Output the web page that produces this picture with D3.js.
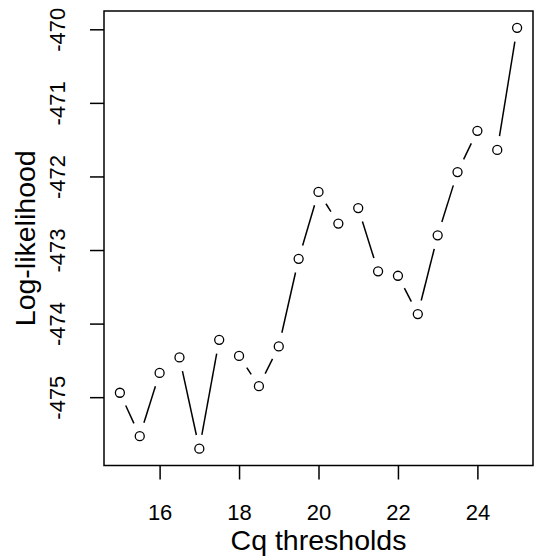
<!DOCTYPE html>
<html>
<head>
<meta charset="utf-8">
<script src="https://cdn.jsdelivr.net/npm/d3@7"></script>
<style>
  body { margin: 0; background: #fff; }
  text { font-family: "Liberation Sans", Arial, sans-serif; fill: #000; }
</style>
</head>
<body>
<div id="chart"></div>
<script>
// Cq thresholds vs log-likelihood
var thresholds = [15, 15.5, 16, 16.5, 17, 17.5, 18, 18.5, 19, 19.5, 20,
                  20.5, 21, 21.5, 22, 22.5, 23, 23.5, 24, 24.5, 25];
var loglik = [-474.94, -475.53, -474.67, -474.46, -475.70, -474.22, -474.44,
              -474.85, -474.31, -473.12, -472.21, -472.64, -472.43, -473.29,
              -473.35, -473.87, -472.80, -471.94, -471.38, -471.64, -469.98];
var xTicks = [16, 18, 20, 22, 24];
var yTicks = [-475, -474, -473, -472, -471, -470];

var W = 534, H = 560;
var margin = {left: 104, right: 1, top: 11, bottom: 94.5};

var svg = d3.select("#chart").append("svg")
  .attr("width", W)
  .attr("height", H);

// R-style 4% padding around the data range
var xr = d3.extent(thresholds), yr = d3.extent(loglik);
var xPad = (xr[1] - xr[0]) * 0.04, yPad = (yr[1] - yr[0]) * 0.04;

var x = d3.scaleLinear()
  .domain([xr[0] - xPad, xr[1] + xPad])
  .range([margin.left, W - margin.right]);
var y = d3.scaleLinear()
  .domain([yr[0] - yPad, yr[1] + yPad])
  .range([H - margin.bottom, margin.top]);

var data = thresholds.map(function(t, i){ return {t: t, v: loglik[i]}; });

// axes
var xAxis = svg.append("g")
  .attr("transform", "translate(0," + y.range()[0] + ")")
  .call(d3.axisBottom(x).tickValues(xTicks).tickSize(14).tickSizeOuter(0)
        .tickFormat(function(d){ return String(d); }));
xAxis.select(".domain").remove();
xAxis.selectAll(".tick line").attr("stroke-width", 1.5);
xAxis.selectAll(".tick text")
  .attr("y", 54.5).attr("dy", 0)
  .style("font-size", "22px");

var yAxis = svg.append("g")
  .attr("transform", "translate(" + x.range()[0] + ",0)")
  .call(d3.axisLeft(y).tickValues(yTicks).tickSize(14).tickSizeOuter(0)
        .tickFormat(function(d){ return String(d); }));
yAxis.select(".domain").remove();
yAxis.selectAll(".tick line").attr("stroke-width", 1.5);
yAxis.selectAll(".tick text")
  .attr("x", 0).attr("dy", 0)
  .attr("text-anchor", "middle")
  .attr("transform", "translate(-39,0) rotate(-90)")
  .style("font-size", "22px");

// plot box
svg.append("rect")
  .attr("x", x.range()[0])
  .attr("y", y.range()[1])
  .attr("width", x.range()[1] - x.range()[0])
  .attr("height", y.range()[0] - y.range()[1])
  .attr("fill", "none")
  .attr("stroke", "#000")
  .attr("stroke-width", 1.5);

// type = "b": segments with gaps around the points
var gap = 14;
var segs = d3.pairs(data).map(function(p){
  var x1 = x(p[0].t), y1 = y(p[0].v), x2 = x(p[1].t), y2 = y(p[1].v);
  var len = Math.hypot(x2 - x1, y2 - y1);
  if (len <= 2 * gap) return null;
  var ux = (x2 - x1) / len, uy = (y2 - y1) / len;
  return [x1 + ux * gap, y1 + uy * gap, x2 - ux * gap, y2 - uy * gap];
}).filter(function(s){ return s; });

svg.append("g").selectAll("line")
  .data(segs)
  .enter().append("line")
  .attr("x1", function(s){ return s[0]; })
  .attr("y1", function(s){ return s[1]; })
  .attr("x2", function(s){ return s[2]; })
  .attr("y2", function(s){ return s[3]; })
  .attr("stroke", "#000")
  .attr("stroke-width", 1.5);

svg.append("g").selectAll("circle")
  .data(data)
  .enter().append("circle")
  .attr("cx", function(d){ return x(d.t); })
  .attr("cy", function(d){ return y(d.v); })
  .attr("r", 4.5)
  .attr("fill", "none")
  .attr("stroke", "#000")
  .attr("stroke-width", 1.3);

// axis titles
svg.append("text")
  .attr("x", (x.range()[0] + x.range()[1]) / 2)
  .attr("y", 550)
  .attr("text-anchor", "middle")
  .style("font-size", "28.5px")
  .text("Cq thresholds");

svg.append("text")
  .attr("transform", "translate(35," + ((y.range()[0] + y.range()[1]) / 2) + ") rotate(-90)")
  .attr("text-anchor", "middle")
  .style("font-size", "28.5px")
  .text("Log-likelihood");
</script>
</body>
</html>
